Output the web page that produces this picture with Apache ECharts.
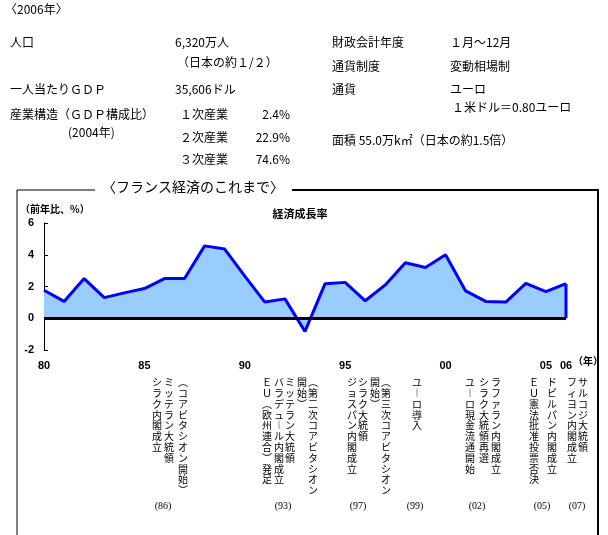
<!DOCTYPE html>
<html><head><meta charset="utf-8">
<script src="https://cdn.jsdelivr.net/npm/echarts@6/dist/echarts.min.js"></script>
<style>html,body{margin:0;padding:0;background:#fff}#c{width:608px;height:535px}</style>
</head><body><div id="c"></div>
<script>
const years = [1980,1981,1982,1983,1984,1985,1986,1987,1988,1989,1990,1991,1992,1993,1994,1995,1996,1997,1998,1999,2000,2001,2002,2003,2004,2005,2006];
const growth = [1.76,1.06,2.5,1.3,1.6,1.87,2.5,2.5,4.56,4.36,2.65,1.02,1.22,-0.83,2.18,2.26,1.1,2.1,3.5,3.2,4.0,1.72,1.06,1.02,2.2,1.68,2.18];
const yearLabels = {1980:'80',1985:'85',1990:'90',1995:'95',2000:'00',2005:'05',2006:'06'};
const yTicks = [-2,0,2,4,6];
const annCols = [
 [183,'（コアビタシオン開始）'],[169,'ミッテラン大統領'],[157,'シラク内閣成立'],
 [313,'（第二次コアビタシオン'],[302,'開始）'],[290,'ミッテラン大統領'],[279,'バラデュール内閣成立'],[267,'ＥＵ（欧州連合）発足'],
 [363,'シラク大統領'],[352,'ジョスパン内閣成立'],
 [386,'（第三次コアビタシオン'],[375,'開始）'],
 [417,'ユーロ導入'],
 [496,'ラファラン内閣成立'],[484,'シラク大統領再選'],[470,'ユーロ現金流通開始'],
 [552,'ドビルパン内閣成立'],[534,'ＥＵ憲法批准投票否決'],
 [583,'サルコジ大統領'],[572,'フィヨン内閣成立']
];
const annYears = [[163,'(86)'],[283,'(93)'],[358,'(97)'],[415,'(99)'],[477,'(02)'],[542,'(05)'],[577,'(07)']];
const F = '"Noto Sans CJK JP", sans-serif';
function vert(s){return s.replace(/（/g,'︵').replace(/）/g,'︶').replace(/ー/g,'︱').split('').join('\n');}
const info = [
 [5,10,'〈2006年〉'],
 [10,43,'人口'],[175,43,'6,320万人'],[177,63,'（日本の約１/２）'],
 [10,90,'一人当たりＧＤＰ'],[175,90,'35,606ドル'],
 [10,115,'産業構造（ＧＤＰ構成比）'],[68,133,'(2004年)'],
 [180,115,'１次産業'],[180,138,'２次産業'],[180,160,'３次産業'],
 [332,43,'財政会計年度'],[450,43,'１月～12月'],
 [332,67,'通貨制度'],[450,67,'変動相場制'],
 [332,90,'通貨'],[450,90,'ユーロ'],[452,108,'１米ドル＝0.80ユーロ'],
 [332,141,'面積 55.0万k㎡（日本の約1.5倍）']
];
const pct = [[290,115,'2.4%'],[290,138,'22.9%'],[290,160,'74.6%']];
const g = [];
info.forEach(([x,y,t])=>g.push({type:'text',left:x,top:y-7,style:{text:t,font:'12px '+F,fill:'#000'}}));
pct.forEach(([x,y,t])=>g.push({type:'text',x:x,y:y-7,style:{text:t,font:'12px '+F,fill:'#000',align:'right'}}));
g.push({type:'polyline',shape:{points:[[95,190],[17,190],[17,535]]},style:{stroke:'#000',lineWidth:1,fill:null}});
g.push({type:'polyline',shape:{points:[[292,190],[598,190],[598,535]]},style:{stroke:'#000',lineWidth:2,fill:null}});
g.push({type:'text',x:193,y:180,style:{text:'〈フランス経済のこれまで〉',font:'14px '+F,fill:'#000',align:'center'}});
g.push({type:'text',x:20,y:204,style:{text:'（前年比、%）',font:'bold 10px '+F,fill:'#000'}});
g.push({type:'text',x:300,y:208,style:{text:'経済成長率',font:'bold 11px '+F,fill:'#000',align:'center'}});
g.push({type:'text',x:588,y:356,style:{text:'（年）',font:'bold 10px '+F,fill:'#000',align:'center'}});
annCols.forEach(([x,t])=>g.push({type:'text',x:x,y:377,style:{text:vert(t),font:'10px '+F,lineHeight:10.8,fill:'#000',align:'center'}}));
annYears.forEach(([x,t])=>g.push({type:'text',x:x,y:501,style:{text:t,font:'10px "Liberation Serif", serif',fill:'#000',align:'center'}}));
const chart = echarts.init(document.getElementById('c'));
chart.setOption({
 animation:false,
 grid:{left:44,right:42,top:223,bottom:185},
 xAxis:{type:'value',min:1980,max:2006,interval:1,
   axisLine:{show:false},axisTick:{show:false},splitLine:{show:false},
   axisLabel:{margin:10,fontSize:11,fontWeight:'bold',color:'#000',fontFamily:'Liberation Sans',
     formatter:v=>yearLabels[v]||'',showMinLabel:true,showMaxLabel:true}},
 yAxis:{type:'value',min:-2,max:6,interval:2,
   axisLine:{show:true,lineStyle:{color:'#000',width:1}},
   axisTick:{show:true,inside:true,length:4,lineStyle:{color:'#000'}},
   splitLine:{show:false},
   axisLabel:{fontSize:11,fontWeight:'bold',color:'#000',fontFamily:'Liberation Sans',margin:10,
     formatter:v=>yTicks.includes(v)?String(v):''}},
 series:[{type:'line',data:years.map((y,i)=>[y,growth[i]]),symbol:'none',
   lineStyle:{color:'#0000ff',width:3},areaStyle:{color:'#99ccff',opacity:1,origin:0},
   markLine:{silent:true,symbol:'none',label:{show:false},lineStyle:{color:'#000',width:3,type:'solid'},data:[[{coord:[1980,0]},{coord:[2006,0]}]]}},
  {type:'line',data:[[2006,0],[2006,growth[26]]],symbol:'none',lineStyle:{color:'#0000ff',width:3}}],
 graphic:g
});
</script></body></html>
